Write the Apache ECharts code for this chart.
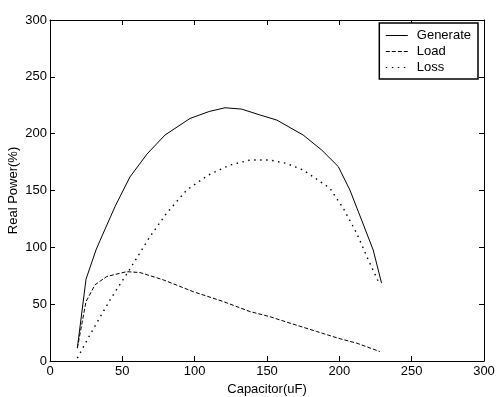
<!DOCTYPE html>
<html>
<head>
<meta charset="utf-8">
<script src="https://cdn.jsdelivr.net/npm/echarts@6/dist/echarts.min.js"></script>
<style>
html,body{margin:0;padding:0;background:#fff;}
#c{width:497px;height:397px;}
</style>
</head>
<body>
<div id="c"></div>
<script>
const xTicks = [0, 50, 100, 150, 200, 250, 300];
const yTicks = [0, 50, 100, 150, 200, 250, 300];

const generateX = [18.9, 24.9, 31.8, 34.6, 45, 55.3, 67, 79.5, 96.8, 110, 121, 132.5, 145, 156.7, 175, 187.8, 199.3, 207.3, 215.4, 223.4, 229.2];
const generateY = [11.3, 72, 97.7, 106, 136, 162, 182, 198.8, 213.4, 219.5, 222.8, 221.6, 216.5, 212, 198.8, 185.6, 171, 150.4, 124, 97.7, 68.5];

const loadX = [18.9, 24.9, 31.1, 39.2, 53, 62.2, 78.3, 99, 119.8, 138.2, 152, 165.9, 184.3, 199.3, 212, 228];
const loadY = [11.3, 52.3, 67, 74.3, 78.6, 77.8, 71.4, 61, 52.3, 43.5, 39, 33.3, 26, 20, 15.7, 8.3];

const lossX = [18.9, 27.6, 41.5, 54.1, 63.4, 69.1, 80.6, 94.5, 109.4, 124.4, 138.2, 152, 163, 175, 193.5, 202.7, 212, 220, 228];
const lossY = [2.5, 23, 53.8, 78.6, 97.7, 109.4, 130, 150.4, 163.6, 172.4, 176.8, 176.8, 174, 168, 152, 134.4, 112.4, 89, 67];

const pairs = (xs, ys) => xs.map((x, i) => [x, ys[i]]);

const font = 'Liberation Sans, Arial, sans-serif';
const axisCommon = {
  type: 'value', min: 0, max: 300, interval: 50,
  axisLine: { show: true, onZero: false, lineStyle: { color: '#000', width: 1 } },
  axisTick: { show: true, inside: true, length: 5, lineStyle: { color: '#000' } },
  splitLine: { show: false },
  axisLabel: { color: '#000', fontSize: 13, fontFamily: font, margin: 4 }
};

const chart = echarts.init(document.getElementById('c'), null, { renderer: 'canvas' });
chart.setOption({
  animation: false,
  backgroundColor: '#fff',
  grid: { left: 50, right: 13, top: 20, bottom: 36, containLabel: false, outerBoundsMode: 'none' },
  xAxis: [
    Object.assign({}, axisCommon, {
      position: 'bottom',
      name: 'Capacitor(uF)', nameLocation: 'middle', nameGap: 22, nameMoveOverlap: false,
      nameTextStyle: { color: '#000', fontSize: 13, fontFamily: font },
      axisLabel: Object.assign({}, axisCommon.axisLabel, { formatter: v => xTicks.includes(v) ? String(v) : '' })
    }),
    Object.assign({}, axisCommon, { position: 'top', axisLabel: { show: false } })
  ],
  yAxis: [
    Object.assign({}, axisCommon, {
      position: 'left',
      name: 'Real Power(%)', nameLocation: 'middle', nameGap: 30, nameMoveOverlap: false,
      nameTextStyle: { color: '#000', fontSize: 13, fontFamily: font },
      axisLabel: Object.assign({}, axisCommon.axisLabel, { margin: 3, formatter: v => yTicks.includes(v) ? String(v) : '' })
    }),
    Object.assign({}, axisCommon, { position: 'right', axisLabel: { show: false } })
  ],
  legend: {
    orient: 'vertical', right: 19, top: 23,
    backgroundColor: '#fff', borderColor: '#000', borderWidth: 1.5, borderRadius: 0,
    padding: [6, 7, 5, 6], itemGap: 3, itemWidth: 22, itemHeight: 13,
    itemStyle: { opacity: 0 },
    lineStyle: { width: 1 },
    textStyle: { color: '#000', fontSize: 13, fontFamily: font, padding: [0, 0, 0, 4] },
    data: ['Generate', 'Load', 'Loss']
  },
  series: [
    { name: 'Generate', type: 'line', data: pairs(generateX, generateY), symbol: 'none', smooth: false,
      lineStyle: { color: '#000', width: 1, type: 'solid' }, itemStyle: { color: '#000' } },
    { name: 'Load', type: 'line', data: pairs(loadX, loadY), symbol: 'none',
      lineStyle: { color: '#000', width: 1, type: [4, 2] }, itemStyle: { color: '#000' } },
    { name: 'Loss', type: 'line', data: pairs(lossX, lossY), symbol: 'none',
      lineStyle: { color: '#000', width: 1.4, type: [1.5, 4.5] }, itemStyle: { color: '#000' } }
  ]
});
</script>
</body>
</html>
